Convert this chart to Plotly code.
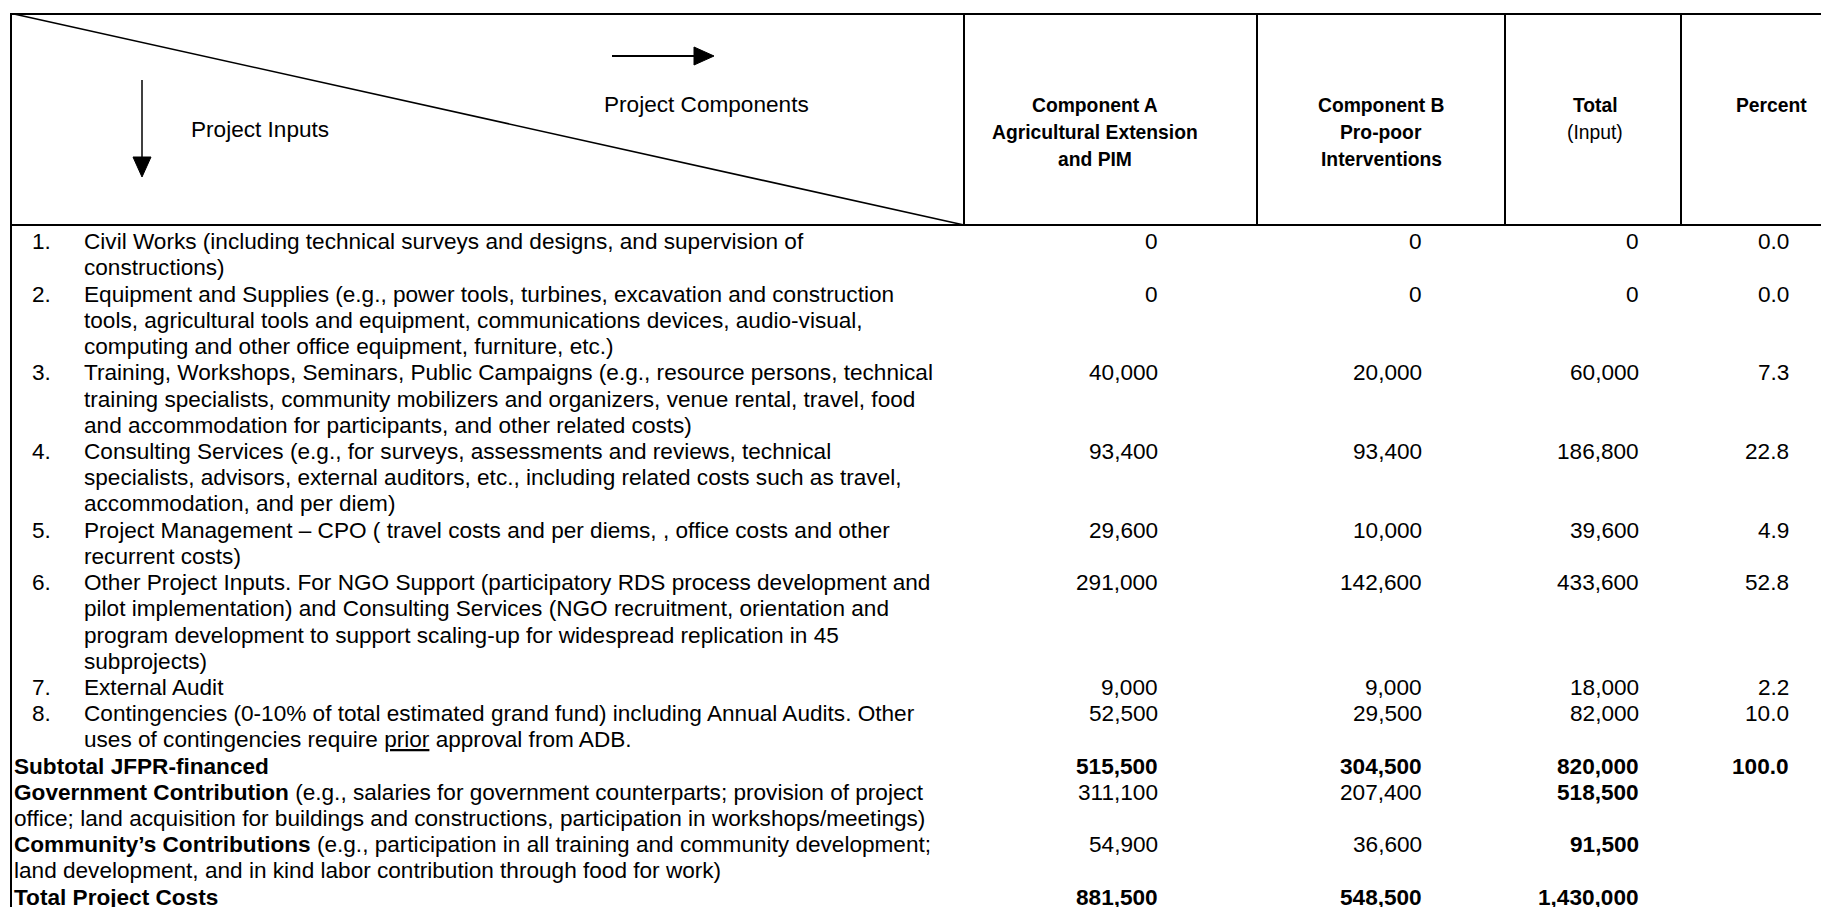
import plotly.graph_objects as go

# ---------------- data ----------------
item_numbers = ["1.", "2.", "3.", "4.", "5.", "6.", "7.", "8."]
item_labels = [
    ["Civil Works (including technical surveys and designs, and supervision of",
     "constructions)"],
    ["Equipment and Supplies (e.g., power tools, turbines, excavation and construction",
     "tools, agricultural tools and equipment, communications devices, audio-visual,",
     "computing and other office equipment, furniture, etc.)"],
    ["Training, Workshops, Seminars, Public Campaigns (e.g., resource persons, technical",
     "training specialists, community mobilizers and organizers, venue rental, travel, food",
     "and accommodation for participants, and other related costs)"],
    ["Consulting Services (e.g., for surveys, assessments and reviews, technical",
     "specialists, advisors, external auditors, etc., including related costs such as travel,",
     "accommodation, and per diem)"],
    ["Project Management \u2013 CPO ( travel costs and per diems, , office costs and other",
     "recurrent costs)"],
    ["Other Project Inputs. For NGO Support (participatory RDS process development and",
     "pilot implementation) and Consulting Services (NGO recruitment, orientation and",
     "program development to support scaling-up for widespread replication in 45",
     "subprojects)"],
    ["External Audit"],
    ["Contingencies (0-10% of total estimated grand fund) including Annual Audits. Other",
     "uses of contingencies require <u>prior</u> approval from ADB."],
]
comp_a = [0, 0, 40000, 93400, 29600, 291000, 9000, 52500]
comp_b = [0, 0, 20000, 93400, 10000, 142600, 9000, 29500]
total_input = [0, 0, 60000, 186800, 39600, 433600, 18000, 82000]
percent = [0.0, 0.0, 7.3, 22.8, 4.9, 52.8, 2.2, 10.0]

summary_labels = [
    ["<b>Subtotal JFPR-financed</b>"],
    ["<b>Government Contribution</b> (e.g., salaries for government counterparts; provision of project",
     "office; land acquisition for buildings and constructions, participation in workshops/meetings)"],
    ["<b>Community\u2019s Contributions</b> (e.g., participation in all training and community development;",
     "land development, and in kind labor contribution through food for work)"],
    ["<b>Total Project Costs</b>"],
]
summary_a = [515500, 311100, 54900, 881500]
summary_b = [304500, 207400, 36600, 548500]
summary_total = [820000, 518500, 91500, 1430000]
summary_percent = [100.0, None, None, None]
summary_a_bold = [True, False, False, True]
summary_total_bold = [True, True, True, True]

header_cols = [
    ["<b>Component A</b>", "<b>Agricultural Extension</b>", "<b>and PIM</b>"],
    ["<b>Component B</b>", "<b>Pro-poor</b>", "<b>Interventions</b>"],
    ["<b>Total</b>", "(Input)"],
    ["<b>Percent</b>"],
]
corner_right = "Project Components"
corner_left = "Project Inputs"

# ---------------- layout constants ----------------
W, H = 1829, 907
OFF = 8  # page body margin
FONT = "Arial, 'Liberation Sans', sans-serif"
FS = 22.6
FS_HDR = 19.3
TOP, HDR_BOT, LEFT = 14, 225, 11
COL_X = [964, 1257, 1505, 1681, 1861]
HDR_CX = [1095, 1381, 1595, 1771]
NUM_RIGHT = [1160, 1424, 1641, 1791]
Y0, LH = 241.7, 26.22
HDR_Y0, HDR_LH = 105, 27.2
X_NUM, X_TXT, X_BOLD = 29.5, 82, 12

fig = go.Figure()
fig.add_trace(go.Scatter(x=[0, W], y=[0, H], mode="markers",
                         marker=dict(opacity=0), hoverinfo="skip", showlegend=False))

ann = []
def txt(x, y, s, anchor="left", bold=False, size=FS):
    if bold:
        s = "<b>" + s + "</b>"
    ann.append(dict(x=x, y=y, xref="x", yref="y", text=s, showarrow=False,
                    xanchor=anchor, yanchor="middle",
                    font=dict(family=FONT, size=size, color="black")))

shapes = []
def line(x0, y0, x1, y1, w=2):
    shapes.append(dict(type="line", x0=x0, y0=y0, x1=x1, y1=y1, xref="x", yref="y",
                       line=dict(color="black", width=w)))

# borders
line(LEFT, TOP, W + OFF, TOP)
line(LEFT, HDR_BOT, W + OFF, HDR_BOT)
line(LEFT, TOP - 1, LEFT, H + OFF)
for cx in COL_X[:4]:
    line(cx, TOP, cx, HDR_BOT)
line(LEFT + 3, TOP, COL_X[0], HDR_BOT, 1.6)

# arrows
line(612, 56, 697, 56, 2)
shapes.append(dict(type="path", path="M 694 47 L 714 56 L 694 65 Z", xref="x", yref="y",
                   fillcolor="black", line=dict(color="black", width=1)))
line(142, 80, 142, 160, 1.5)
shapes.append(dict(type="path", path="M 133 157 L 142 177 L 151 157 Z", xref="x", yref="y",
                   fillcolor="black", line=dict(color="black", width=1)))
txt(602, 104, corner_right)
txt(189, 129, corner_left)

# header columns
for i, lines in enumerate(header_cols):
    for j, s in enumerate(lines):
        txt(HDR_CX[i], HDR_Y0 + j * HDR_LH, s, anchor="center", size=FS_HDR)

# body rows
k = 0
for i, lines in enumerate(item_labels):
    y = Y0 + k * LH
    txt(X_NUM, y, item_numbers[i])
    for j, s in enumerate(lines):
        txt(X_TXT, Y0 + (k + j) * LH, s)
    txt(NUM_RIGHT[0], y, f"{comp_a[i]:,}", "right")
    txt(NUM_RIGHT[1], y, f"{comp_b[i]:,}", "right")
    txt(NUM_RIGHT[2], y, f"{total_input[i]:,}", "right")
    txt(NUM_RIGHT[3], y, f"{percent[i]:.1f}", "right")
    k += len(lines)

for i, lines in enumerate(summary_labels):
    y = Y0 + k * LH
    for j, s in enumerate(lines):
        txt(X_BOLD, Y0 + (k + j) * LH, s)
    txt(NUM_RIGHT[0], y, f"{summary_a[i]:,}", "right", summary_a_bold[i])
    txt(NUM_RIGHT[1], y, f"{summary_b[i]:,}", "right", summary_a_bold[i])
    txt(NUM_RIGHT[2], y, f"{summary_total[i]:,}", "right", summary_total_bold[i])
    if summary_percent[i] is not None:
        txt(NUM_RIGHT[3], y, f"{summary_percent[i]:.1f}", "right", True)
    k += len(lines)

fig.update_layout(
    width=W, height=H, margin=dict(l=0, r=0, t=0, b=0),
    paper_bgcolor="white", plot_bgcolor="white",
    xaxis=dict(range=[OFF, W + OFF], visible=False, fixedrange=True),
    yaxis=dict(range=[H + OFF, OFF], visible=False, fixedrange=True),
    annotations=ann, shapes=shapes, showlegend=False,
)
fig.write_html("out.html")
